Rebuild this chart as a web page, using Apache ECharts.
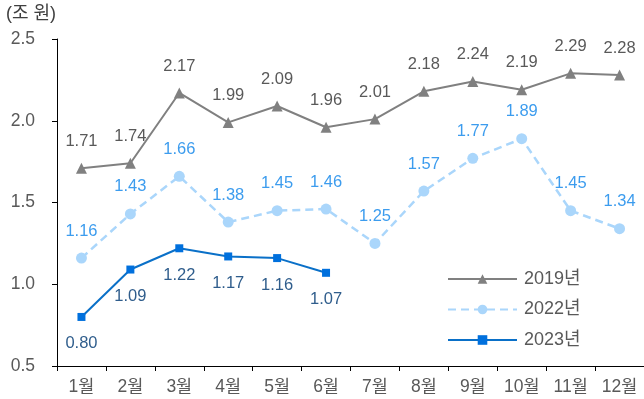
<!DOCTYPE html>
<html>
<head>
<meta charset="utf-8">
<script src="https://cdn.jsdelivr.net/npm/echarts@6/dist/echarts.min.js"></script>
<style>
  html, body { margin: 0; padding: 0; background: #fff; }
  #chart { width: 644px; height: 399px; }
</style>
</head>
<body>
<div id="chart"></div>
<script>
// Monthly amounts (조 원)
const months = ['1월','2월','3월','4월','5월','6월','7월','8월','9월','10월','11월','12월'];
const values2019 = [1.71, 1.74, 2.17, 1.99, 2.09, 1.96, 2.01, 2.18, 2.24, 2.19, 2.29, 2.28];
const values2022 = [1.16, 1.43, 1.66, 1.38, 1.45, 1.46, 1.25, 1.57, 1.77, 1.89, 1.45, 1.34];
const values2023 = [0.80, 1.09, 1.22, 1.17, 1.16, 1.07, null, null, null, null, null, null];
const yTicks = { min: 0.5, max: 2.5, step: 0.5 };
const unitLabel = '(조 원)';

const FONT = '"Liberation Sans", Arial, "Noto Sans CJK KR", sans-serif';

function valueLabel(color, dy) {
  return {
    show: true,
    position: 'inside',
    offset: [0, dy],
    color: color,
    fontSize: 16.5,
    fontFamily: FONT,
    formatter: p => p.value == null ? '' : Number(p.value).toFixed(2)
  };
}

const chart = echarts.init(document.getElementById('chart'), null, { renderer: 'canvas' });

chart.setOption({
  animation: false,
  backgroundColor: '#ffffff',
  textStyle: { fontFamily: FONT },
  title: {
    text: unitLabel,
    left: 6,
    top: 5,
    padding: [0, 0, 0, 0],
    textStyle: { fontSize: 18, fontWeight: 'normal', color: '#404040', fontFamily: FONT }
  },
  grid: { left: 57, top: 39, width: 588, height: 327 },
  legend: {
    orient: 'vertical',
    left: 447,
    top: 270,
    padding: 0,
    itemWidth: 69,
    itemHeight: 12,
    itemGap: 12.5,
    textStyle: { fontSize: 18, color: '#595959', fontFamily: FONT, padding: [0, 0, 0, 2] },
    data: ['2019년', '2022년', '2023년']
  },
  xAxis: {
    type: 'category',
    data: months,
    boundaryGap: true,
    axisLine: { lineStyle: { color: '#000000', width: 1 } },
    axisTick: { show: true, length: 5, lineStyle: { color: '#000000' } },
    axisLabel: { color: '#595959', fontSize: 17.5, margin: 12, fontFamily: FONT }
  },
  yAxis: {
    type: 'value',
    min: yTicks.min,
    max: yTicks.max,
    interval: yTicks.step,
    splitLine: { show: false },
    axisLine: { show: true, lineStyle: { color: '#000000', width: 1 } },
    axisTick: { show: true, length: 5, lineStyle: { color: '#000000' } },
    axisLabel: {
      color: '#595959', fontSize: 17.5, margin: 22, fontFamily: FONT,
      formatter: v => v.toFixed(1)
    }
  },
  series: [
    {
      name: '2019년',
      type: 'line',
      data: values2019,
      symbol: 'triangle',
      symbolSize: 11,
      lineStyle: { color: '#808080', width: 2 },
      itemStyle: { color: '#808080' },
      label: valueLabel('#595959', -27),
      z: 3
    },
    {
      name: '2022년',
      type: 'line',
      data: values2022,
      symbol: 'circle',
      symbolSize: 11,
      lineStyle: { color: '#aad6fb', width: 2.5, type: [8, 5] },
      itemStyle: { color: '#aad6fb' },
      label: valueLabel('#3c9cee', -27),
      z: 2
    },
    {
      name: '2023년',
      type: 'line',
      data: values2023,
      symbol: 'rect',
      symbolSize: 8,
      lineStyle: { color: '#0a70c8', width: 2 },
      itemStyle: { color: '#0070dd' },
      label: valueLabel('#2f5d8c', 27),
      z: 4
    }
  ]
});
</script>
</body>
</html>
